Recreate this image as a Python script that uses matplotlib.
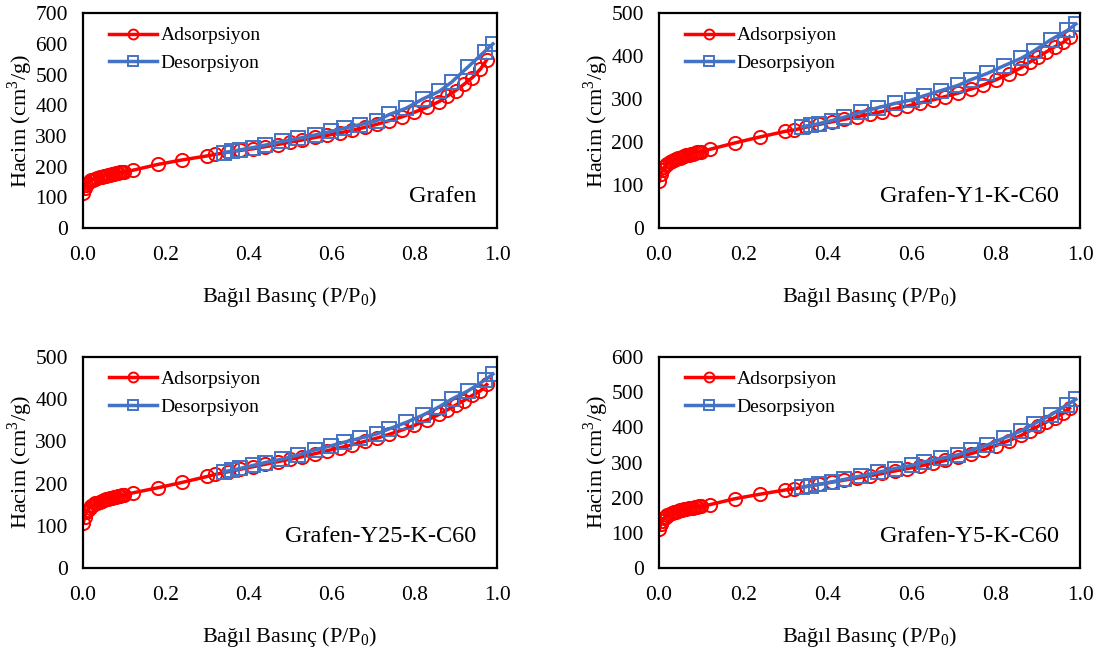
import matplotlib.pyplot as plt

plt.rcParams['font.family'] = ['Liberation Serif', 'DejaVu Serif']
plt.rcParams['mathtext.fontset'] = 'custom'
plt.rcParams['mathtext.rm'] = 'Liberation Serif'

# bağıl basınç noktaları
p_ads = [0.001, 0.004, 0.008, 0.012, 0.016, 0.02, 0.025, 0.03, 0.035, 0.04, 0.045,
         0.05, 0.055, 0.06, 0.065, 0.07, 0.075, 0.08, 0.085, 0.09, 0.095, 0.10,
         0.12, 0.18, 0.24, 0.30, 0.32, 0.35, 0.38, 0.41, 0.44, 0.47, 0.50, 0.53,
         0.56, 0.59, 0.62, 0.65, 0.68, 0.71, 0.74, 0.77, 0.80, 0.83, 0.86, 0.88,
         0.90, 0.92, 0.94, 0.96, 0.975]
p_des = [0.99, 0.97, 0.93, 0.89, 0.86, 0.82, 0.78, 0.74, 0.71, 0.67, 0.63, 0.60,
         0.56, 0.52, 0.48, 0.44, 0.41, 0.38, 0.36, 0.34]

# Grafen
grafen_ads = [115, 130, 140, 147, 152, 155, 158, 161, 163, 165, 167, 169, 171, 172, 174,
              175, 177, 178, 180, 181, 182, 184,
              188, 207, 222, 235, 240, 247, 253, 258, 265, 272, 280, 287, 295, 302, 310,
              318, 328, 338, 350, 362, 377, 393, 412, 430, 448, 468, 490, 518, 548]
grafen_des = [600, 575, 525, 475, 445, 420, 390, 370, 350, 337, 325, 315, 303, 292, 282,
              270, 262, 255, 250, 245]

# Grafen-Y1-K-C60
y1_ads = [110, 125, 135, 141, 146, 150, 153, 156, 158, 160, 162, 164, 166, 167, 169,
          170, 172, 173, 175, 176, 177, 178,
          183, 198, 212, 225, 228, 235, 241, 247, 253, 259, 265, 271, 278, 284, 291,
          298, 306, 314, 323, 333, 345, 358, 373, 386, 398, 410, 422, 432, 445]
y1_des = [475, 460, 438, 412, 395, 378, 360, 345, 332, 320, 308, 298, 290, 280, 270,
          258, 250, 243, 239, 236]

# Grafen-Y25-K-C60
y25_ads = [107, 122, 132, 138, 143, 147, 150, 153, 155, 157, 159, 161, 163, 164, 166,
           167, 168, 169, 170, 171, 172, 173,
           178, 190, 203, 217, 222, 228, 234, 240, 246, 252, 258, 264, 271, 278, 285,
           292, 300, 308, 317, 327, 338, 350, 364, 375, 386, 397, 409, 420, 435]
y25_des = [460, 445, 420, 400, 382, 362, 345, 330, 318, 308, 298, 290, 280, 268, 258,
           250, 243, 236, 232, 228]

# Grafen-Y5-K-C60
y5_ads = [110, 125, 135, 141, 146, 150, 153, 156, 158, 160, 162, 164, 166, 167, 169,
          170, 171, 172, 173, 174, 175, 176,
          180, 197, 210, 222, 225, 232, 238, 244, 250, 256, 262, 269, 276, 283, 290,
          298, 306, 315, 325, 336, 348, 362, 377, 390, 403, 415, 428, 440, 455]
y5_des = [480, 465, 435, 410, 390, 370, 350, 335, 322, 312, 302, 292, 283, 272, 262,
          252, 245, 238, 234, 230]

names = ['Grafen', 'Grafen-Y1-K-C60', 'Grafen-Y25-K-C60', 'Grafen-Y5-K-C60']
ads = [grafen_ads, y1_ads, y25_ads, y5_ads]
des = [grafen_des, y1_des, y25_des, y5_des]
ymax = [700, 500, 500, 600]

fig = plt.figure(figsize=(11.08, 6.47), dpi=100)
konum = [[0.0749, 0.6476, 0.3737, 0.332],
         [0.5948, 0.6476, 0.380, 0.332],
         [0.0749, 0.1221, 0.3737, 0.326],
         [0.5948, 0.1221, 0.380, 0.326]]

for i in range(4):
    ax = fig.add_axes(konum[i])
    ax.plot(p_ads, ads[i], color='#FF0000', lw=2.5, marker='o', ms=9.5,
            mfc='none', mec='#FF0000', mew=1.4, label='Adsorpsiyon')
    ax.plot(p_des, des[i], color='#4472C4', lw=2.5, marker='s', ms=9.5,
            mfc='none', mec='#4472C4', mew=1.4, label='Desorpsiyon')
    ax.set_xlim(0, 1.0)
    ax.set_ylim(0, ymax[i])
    ax.set_xticks([0.0, 0.2, 0.4, 0.6, 0.8, 1.0])
    ax.set_xticklabels(['0.0', '0.2', '0.4', '0.6', '0.8', '1.0'])
    ax.set_yticks(range(0, ymax[i] + 1, 100))
    ax.tick_params(length=0, labelsize=15.5)
    ax.tick_params(axis='y', pad=11)
    ax.tick_params(axis='x', pad=13)
    for s in ax.spines.values():
        s.set_linewidth(1.6)
        s.set_color('black')
    ax.set_xlabel('Bağıl Basınç (P/P$_0$)', fontsize=16, labelpad=14)
    ax.set_ylabel('Hacim (cm$^3$/g)', fontsize=16, labelpad=0)
    leg = ax.legend(loc='upper left', frameon=False, fontsize=14, handlelength=2.45,
                    handletextpad=0.2, borderaxespad=0.3, labelspacing=0.5,
                    bbox_to_anchor=(0.03, 1.0), markerscale=0.75)
    ax.text(0.95, 0.1, names[i], transform=ax.transAxes, ha='right', va='bottom',
            fontsize=17.5)

plt.savefig('out.png', dpi=100)
